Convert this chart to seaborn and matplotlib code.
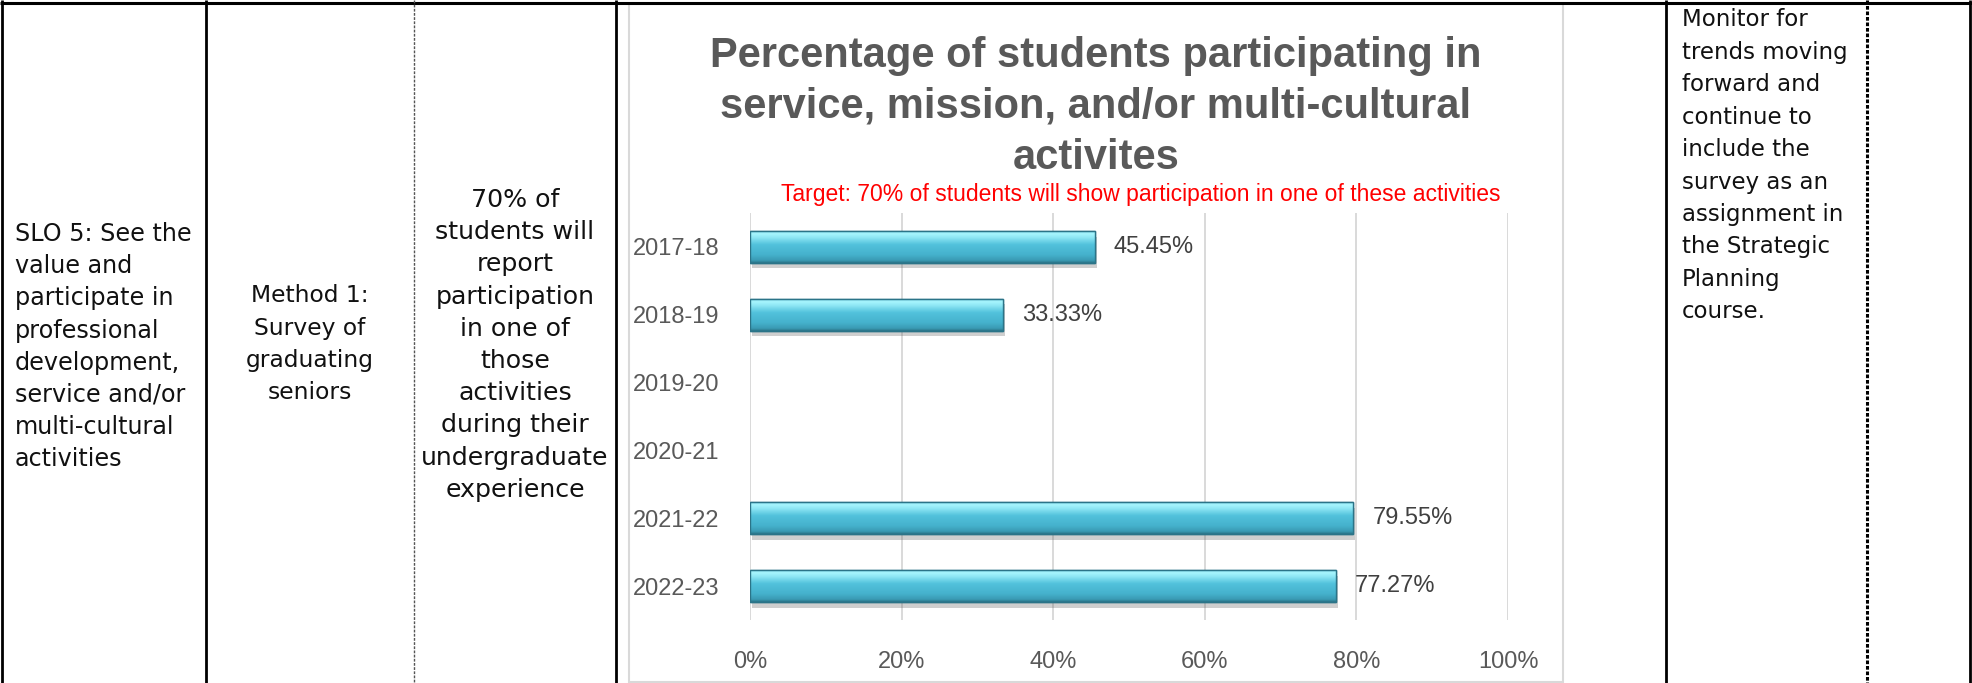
import numpy as np
import pandas as pd
import matplotlib
matplotlib.use("Agg")
import matplotlib.pyplot as plt
import matplotlib.patheffects as pe
from matplotlib import font_manager
from matplotlib.colors import LinearSegmentedColormap
import seaborn as sns

# ---------------- data ----------------
years = ["2017-18", "2018-19", "2019-20", "2020-21", "2021-22", "2022-23"]
pct = [45.45, 33.33, np.nan, np.nan, 79.55, 77.27]
x_ticks = [0, 20, 40, 60, 80, 100]
x_tick_labels = ["0%", "20%", "40%", "60%", "80%", "100%"]

title_lines = ["Percentage of students participating in",
               "service, mission, and/or multi-cultural",
               "activites"]
subtitle = "Target: 70% of students will show participation in one of these activities"

col1_lines = ["SLO 5: See the", "value and", "participate in", "professional",
              "development,", "service and/or", "multi-cultural", "activities"]
col2_lines = ["Method 1:", "Survey of", "graduating", "seniors"]
col3_lines = ["70% of", "students will", "report", "participation", "in one of",
              "those", "activities", "during their", "undergraduate", "experience"]
col7_lines = ["Monitor for", "trends moving", "forward and", "continue to",
              "include the", "survey as an", "assignment in", "the Strategic",
              "Planning", "course."]

# ---------------- fonts ----------------
sns.set_theme(style="white")
names = {f.name for f in font_manager.fontManager.ttflist}
narrow = "Liberation Sans Narrow" if "Liberation Sans Narrow" in names else "Liberation Sans"
body = "DejaVu Sans"
plt.rcParams["font.family"] = [body]

W, H = 1972, 683
fig = plt.figure(figsize=(W / 100, H / 100), dpi=100)
fig.patch.set_facecolor("white")

# ---------------- table frame (pixel-coordinate overlay) ----------------
bg = fig.add_axes([0, 0, 1, 1], zorder=0)
bg.set_xlim(0, W)
bg.set_ylim(H, 0)
bg.axis("off")

bg.plot([0, W], [3, 3], color="black", lw=2.2, solid_capstyle="butt")
for xv in [2, 206, 616, 1666, 1970]:
    bg.plot([xv, xv], [0, H], color="black", lw=2.0, solid_capstyle="butt")
bg.plot([414, 414], [0, H], color="#555555", lw=1.0, ls=(0, (2, 1)))
bg.plot([1867, 1867], [0, H], color="black", lw=2.2, ls=(0, (1.2, 0.6)))

# chart area box
bg.add_patch(plt.Rectangle((629, 4), 934, 678, facecolor="white",
                           edgecolor="#d9d9d9", lw=1.5))

txt_kw = dict(color="#111111", family=body, va="center")
for i, s in enumerate(col1_lines):
    bg.text(15, 234 + i * 32.2, s, ha="left", fontsize=17.2, **txt_kw)
for i, s in enumerate(col2_lines):
    bg.text(310, 296 + i * 32.2, s, ha="center", fontsize=16.8, **txt_kw)
for i, s in enumerate(col3_lines):
    bg.text(515, 200 + i * 32.2, s, ha="center", fontsize=18.2, **txt_kw)
for i, s in enumerate(col7_lines):
    bg.text(1682, 20 + i * 32.4, s, ha="left", fontsize=16.5, **txt_kw)

# title & subtitle
for i, s in enumerate(title_lines):
    bg.text(1096, 56 + i * 51, s, ha="center", va="center", fontsize=30,
            fontweight="bold", color="#595959", family=narrow)
bg.text(1141, 194, subtitle, ha="center", va="center", fontsize=16.5,
        color="#ff0000", family=narrow)

# ---------------- chart ----------------
ax = fig.add_axes([750 / W, 1 - 620 / H, 758 / W, 407 / H], zorder=2)
ax.patch.set_alpha(0)

df = pd.DataFrame({"year": years, "pct": pct}).dropna()
sns.barplot(data=df, x="pct", y="year", order=years, orient="h", ax=ax,
            width=0.47, color="#4bbcd8", edgecolor="#2b7488", linewidth=1.0,
            saturation=1)

grad = LinearSegmentedColormap.from_list("bevel", [
    (0.00, "#7cd6e6"), (0.07, "#a8f6fe"), (0.20, "#8de6f4"),
    (0.42, "#52c2dc"), (0.75, "#45b1cc"), (0.92, "#3a9bb4"), (1.00, "#2c768a")])
gimg = np.linspace(0, 1, 64).reshape(-1, 1)
for p in list(ax.patches):
    x0, y0 = p.get_x(), p.get_y()
    w, h = p.get_width(), p.get_height()
    p.set_path_effects([pe.SimplePatchShadow(offset=(1.5, -4), alpha=0.28,
                                             shadow_rgbFace="#555555"),
                        pe.Normal()])
    im = ax.imshow(gimg, cmap=grad, aspect="auto", origin="upper",
                   extent=(x0, x0 + w, y0 + h, y0), zorder=p.get_zorder() + 0.1,
                   interpolation="bilinear")
    im.set_clip_path(p)
    edge = plt.Rectangle((x0, y0), w, h, fill=False, edgecolor="#2b7488",
                         lw=1.0, zorder=p.get_zorder() + 0.2)
    ax.add_patch(edge)

ax.bar_label(ax.containers[0], labels=[f"{v:.2f}%" for v in df["pct"]],
             padding=14, fontsize=17, color="#404040", family=narrow)

ax.set_xlim(0, 100)
ax.set_ylim(len(years) - 0.5, -0.5)
ax.set_xticks(x_ticks)
ax.set_xticklabels(x_tick_labels, family=narrow, fontsize=17, color="#595959")
ax.set_yticks(range(len(years)))
ax.set_yticklabels(years, family=narrow, fontsize=17, color="#595959")
ax.tick_params(axis="x", length=0, pad=22)
ax.tick_params(axis="y", length=0, pad=22)
ax.set_xlabel("")
ax.set_ylabel("")
ax.grid(axis="x", color="#d9d9d9", lw=1.4)
ax.grid(axis="y", visible=False)
ax.set_axisbelow(True)
for s in ax.spines.values():
    s.set_visible(False)

fig.savefig("out.png", dpi=100, facecolor="white")
